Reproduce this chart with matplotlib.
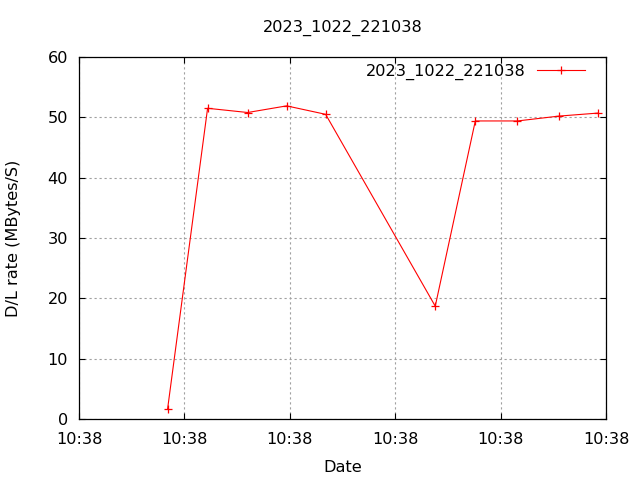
import matplotlib
matplotlib.use("Agg")
import matplotlib.pyplot as plt

# seconds after 10:38:00 (all ticks read "10:38")
t_sec = [8.4, 12.2, 16.0, 19.7, 23.4, 33.8, 37.6, 41.6, 45.5, 49.2]
rate = [1.6, 51.5, 50.8, 51.9, 50.5, 18.7, 49.4, 49.4, 50.2, 50.7]
xticks = [0, 10, 20, 30, 40, 50]
xtick_labels = ["10:38"] * 6
series_name = "2023_1022_221038"

plt.rcParams["font.family"] = "DejaVu Sans"
fs = 11.6

fig = plt.figure(figsize=(6.4, 4.8), dpi=100)
ax = fig.add_axes([79/640, 61/480, 527/640, 362/480])

ax.plot(t_sec, rate, color="red", lw=0.8, marker="+", ms=6, mew=0.9,
        label=series_name)

ax.set_xlim(0, 50)
ax.set_ylim(0, 60)
ax.set_xticks(xticks)
ax.set_xticklabels(xtick_labels)
ax.set_yticks(range(0, 61, 10))
ax.grid(True, color="#a0a0a0", ls=(0, (2, 2.5)), lw=0.8)
ax.tick_params(direction="in", top=True, right=True, length=4, width=0.8,
               labelsize=fs, pad=8)
ax.tick_params(axis="x", pad=9.5)
for s in ax.spines.values():
    s.set_linewidth(0.9)

ax.set_xlabel("Date", fontsize=fs, labelpad=9)
ax.set_ylabel("D/L rate (MBytes/S)", fontsize=fs, labelpad=19)
ax.set_title(series_name, fontsize=fs, pad=18)

leg = ax.legend(loc="upper right", frameon=False, markerfirst=False,
                handlelength=3.0, handletextpad=0.7, borderaxespad=0.6,
                bbox_to_anchor=(1 - 5/527, 1 + 9/362), fontsize=fs)
for h in leg.legend_handles:
    h.set_markersize(6)

fig.savefig("out.png", dpi=100)
